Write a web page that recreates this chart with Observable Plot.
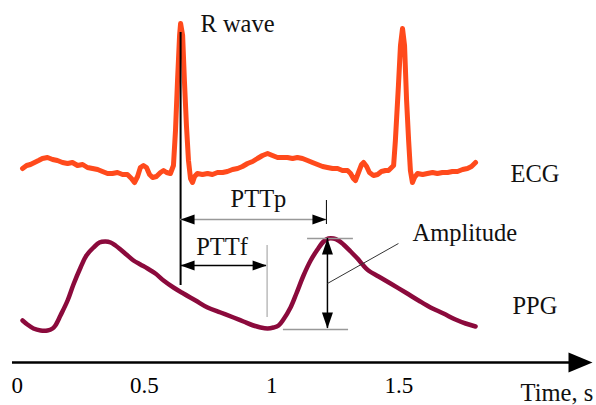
<!DOCTYPE html>
<html><head><meta charset="utf-8">
<script src="https://cdn.jsdelivr.net/npm/d3@7"></script>
<script src="https://cdn.jsdelivr.net/npm/@observablehq/plot@0.6"></script>
<style>
html,body{margin:0;padding:0;background:#fff;}
#chart svg{display:block}
#chart svg, #chart svg text{font-family:"Liberation Serif","Times New Roman","Nimbus Roman","DejaVu Serif",serif !important;}
</style>
</head><body><div id="chart"></div>
<script>
// ECG trace: time (s) and signal level (arbitrary units)
const ecgTime = [0.021,0.037,0.052,0.068,0.084,0.099,0.119,0.139,0.158,0.178,
  0.198,0.217,0.237,0.257,0.276,0.296,0.316,0.335,0.355,0.374,
  0.394,0.414,0.433,0.449,0.461,0.473,0.484,0.496,0.508,0.520,
  0.532,0.547,0.563,0.575,0.587,0.602,0.614,0.622,0.630,0.638,
  0.642,0.650,0.657,0.665,0.673,0.681,0.689,0.697,0.708,0.728,
  0.748,0.767,0.787,0.807,0.826,0.846,0.866,0.885,0.905,0.925,
  0.944,0.964,0.984,1.003,1.023,1.042,1.062,1.082,1.101,1.121,
  1.141,1.160,1.180,1.200,1.219,1.239,1.259,1.278,1.298,1.310,
  1.321,1.329,1.341,1.353,1.361,1.373,1.384,1.400,1.416,1.431,
  1.447,1.459,1.471,1.479,1.486,1.498,1.506,1.514,1.522,1.530,
  1.538,1.545,1.553,1.561,1.573,1.593,1.612,1.632,1.651,1.671,
  1.691,1.710,1.730,1.750,1.769,1.785,1.801];
const ecgLevel = [194,197,198,200,202,204,205,203,202,200,
  199,200,197,198,195,194,193,191,189,189,
  190,188,188,184,180,186,195,197,195,188,
  185,186,190,192,190,189,197,232,282,327,
  339,327,282,237,202,184,180,186,189,188,
  189,188,190,190,191,193,194,196,199,201,
  204,207,209,207,205,205,205,204,205,204,
  202,200,198,196,195,194,194,192,192,189,
  184,182,190,198,200,196,190,187,188,191,
  192,192,195,197,222,277,317,334,317,262,
  222,192,180,185,189,188,189,190,189,190,
  190,191,191,193,194,196,200];

// PPG trace
const ppgTime = [0.021,0.040,0.064,0.092,0.119,0.139,0.150,0.170,0.198,0.221,
  0.249,0.272,0.300,0.323,0.347,0.367,0.386,0.406,0.429,0.457,
  0.484,0.512,0.543,0.575,0.614,0.653,0.701,0.748,0.799,0.850,
  0.889,0.928,0.956,0.984,1.007,1.027,1.046,1.074,1.097,1.125,
  1.153,1.180,1.204,1.223,1.243,1.262,1.282,1.310,1.337,1.357,
  1.380,1.420,1.467,1.526,1.577,1.624,1.675,1.722,1.762,1.801];
const ppgLevel = [42,38,34,32,32,34,37,47,62,78,
  95,107,115,120,121,120,117,113,108,102,
  98,94,89,82,75,69,62,55,50,45,
  41,37,35,34,35,37,43,55,69,87,
  102,113,121,124,124,122,118,111,104,98,
  92,86,79,70,62,55,49,43,39,36];

// Axis ticks
const tickValues = [0, 0.5, 1, 1.5];
const tickLabels = ["0", "0.5", "1", "1.5"];

// Annotation anchors (time s, level)
const rWaveTime = [0.642];
const rWaveSpan = [77, 330];
const pttpSpan = [0.642, 1.215];
const pttpLevel = [143];
const pttfSpan = [0.642, 0.980];
const pttfLevel = [97];
const footTime = [0.982];
const footSpan = [45, 117];
const ampTime = [1.219];
const ampSpan = [34, 124];
const ampTopSpan = [1.141, 1.321];
const ampBottomSpan = [1.046, 1.302];
const ampBottomLevel = [33];
const leader = [1.219, 79, 1.498, 119];
const axisSpan = [-0.0185, 2.18, 2.2605];

const labels = [
  {text: "R wave", t: 0.720, v: 338.5, anchor: "start"},
  {text: "ECG", t: 1.938, v: 188, anchor: "start"},
  {text: "PTTp", t: 0.948, v: 163, anchor: "middle"},
  {text: "PTTf", t: 0.805, v: 115.5, anchor: "middle"},
  {text: "Amplitude", t: 1.553, v: 129, anchor: "start"},
  {text: "PPG", t: 1.946, v: 56, anchor: "start"},
  {text: "Time, s", t: 1.978, v: -31, anchor: "start"}
];

const serif = "Liberation Serif, Times New Roman, serif";
const head = (rows, opts) => Plot.vector(rows, {x: "t", y: "v", shape: "spike", anchor: "end", fill: "#000", stroke: "none", ...opts});

const chart = Plot.plot({
  width: 596, height: 405,
  marginTop: 0, marginRight: 0, marginLeft: 0, marginBottom: 43,
  style: {fontFamily: serif, fontSize: "23px", color: "#000", background: "#fff"},
  x: {domain: [-0.0656, 2.2762], ticks: tickValues, tickFormat: d => tickLabels[tickValues.indexOf(d)], tickSize: 0, tickPadding: 14, label: null},
  y: {domain: [0, 362], axis: null},
  marks: [
    Plot.line(ecgTime, {x: ecgTime, y: ecgLevel, stroke: "#ff4a1c", strokeWidth: 5, strokeLinejoin: "round", strokeLinecap: "round"}),
    Plot.line(ppgTime, {x: ppgTime, y: ppgLevel, stroke: "#8b0a3c", strokeWidth: 4.5, curve: "catmull-rom", strokeLinecap: "round"}),
    // R wave marker line
    Plot.ruleX(rWaveTime, {x: d => d, y1: rWaveSpan[0], y2: rWaveSpan[1], stroke: "#000", strokeWidth: 2}),
    // PTTp
    Plot.ruleY(pttpLevel, {y: d => d, x1: pttpSpan[0], x2: pttpSpan[1], stroke: "#999", strokeWidth: 1.5}),
    Plot.ruleX([pttpSpan[1]], {x: d => d, y1: pttpLevel[0] - 5, y2: pttpLevel[0] + 19, stroke: "#000", strokeWidth: 1}),
    head([{t: pttpSpan[0], v: pttpLevel[0]}, {t: pttfSpan[0], v: pttfLevel[0]}], {rotate: -90, length: 14, r: 5}),
    head([{t: pttpSpan[1], v: pttpLevel[0]}, {t: pttfSpan[1], v: pttfLevel[0]}], {rotate: 90, length: 14, r: 5}),
    // PTTf
    Plot.ruleY(pttfLevel, {y: d => d, x1: pttfSpan[0], x2: pttfSpan[1], stroke: "#000", strokeWidth: 1.5}),
    Plot.ruleX(footTime, {x: d => d, y1: footSpan[0], y2: footSpan[1], stroke: "#bbb", strokeWidth: 1.5}),
    // Amplitude
    Plot.ruleY([ampSpan[1]], {y: d => d, x1: ampTopSpan[0], x2: ampTopSpan[1], stroke: "#999", strokeWidth: 1.3}),
    Plot.ruleY(ampBottomLevel, {y: d => d, x1: ampBottomSpan[0], x2: ampBottomSpan[1], stroke: "#999", strokeWidth: 1.3}),
    Plot.ruleX(ampTime, {x: d => d, y1: ampSpan[0], y2: ampSpan[1], stroke: "#000", strokeWidth: 1.5}),
    head([{t: ampTime[0], v: ampSpan[1]}], {rotate: 0, length: 16, r: 5.5}),
    head([{t: ampTime[0], v: ampSpan[0]}], {rotate: 180, length: 16, r: 5.5}),
    Plot.link([leader], {x1: d => d[0], y1: d => d[1], x2: d => d[2], y2: d => d[3], stroke: "#333", strokeWidth: 1}),
    // time axis
    Plot.ruleY([0], {y: d => d, x1: axisSpan[0], x2: axisSpan[1], stroke: "#000", strokeWidth: 2.5}),
    head([{t: axisSpan[2], v: 0}], {rotate: 90, length: 24, r: 10}),
    // labels
    Plot.text(labels, {x: "t", y: "v", text: "text", textAnchor: "start", filter: d => d.anchor === "start", fontSize: 24.5, fontFamily: serif, fill: "#111", lineAnchor: "middle"}),
    Plot.text(labels, {x: "t", y: "v", text: "text", textAnchor: "middle", filter: d => d.anchor === "middle", fontSize: 24.5, fontFamily: serif, fill: "#111", lineAnchor: "middle"})
  ]
});
document.getElementById("chart").appendChild(chart);
</script>
</body></html>
